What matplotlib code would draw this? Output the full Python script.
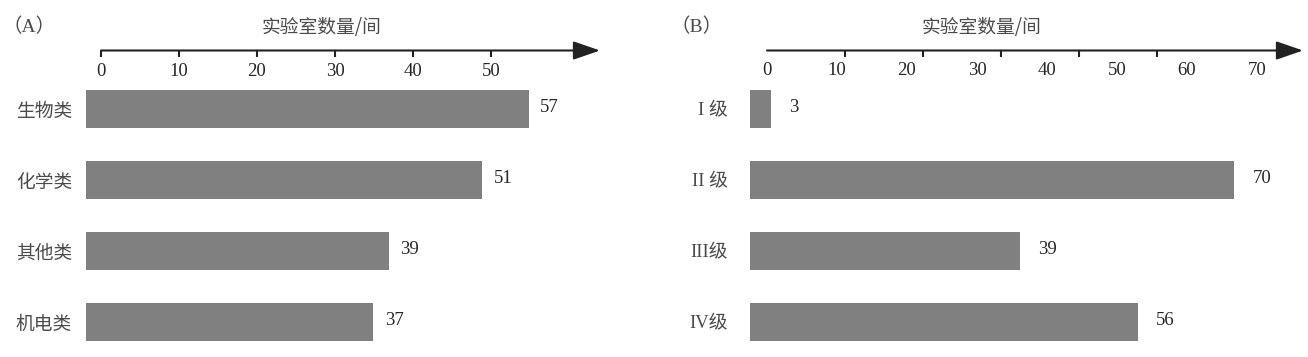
import matplotlib
matplotlib.use("Agg")
import matplotlib.pyplot as plt
from matplotlib.ticker import FixedLocator

# ---------------- data ----------------
cats_a = ["生物类", "化学类", "其他类", "机电类"]
vals_a = [57, 51, 39, 37]
ticks_a = [0, 10, 20, 30, 40, 50]

cats_b = ["I 级", "II 级", "III级", "IV级"]
vals_b = [3, 70, 39, 56]
ticks_b_labels = [0, 10, 20, 30, 40, 50, 60, 70]
n_tick_marks_b = 6

title_txt = "实验室数量/间"
panel_a = "（A）"
panel_b = "（B）"

# ---------------- layout helpers (pixel based) ----------------
W, H = 1308, 357
fig = plt.figure(figsize=(W / 100, H / 100), dpi=100)
fig.patch.set_facecolor("white")

def rect(left, top, right, bottom):
    return [left / W, 1 - bottom / H, (right - left) / W, (bottom - top) / H]

CJK = ["Noto Sans CJK SC", "DejaVu Sans"]
SERIF = ["Liberation Serif", "Noto Sans CJK SC"]
BAR_C = "#808080"
TXT_C = "#4a4a4a"
NUM_C = "#262626"
AX_C = "#222222"
NUM_FS = 13.5

row_px = 71.0
first_center = 109.0

def bar_panel(left_px, right_px, scale, cats, vals, label_pad_pt, lab_family, val_off):
    top_px = first_center - 0.5 * row_px
    bottom_px = first_center + 3.45 * row_px
    ax = fig.add_axes(rect(left_px, top_px, right_px, bottom_px))
    ax.set_xlim(0, (right_px - left_px) / scale)
    ax.set_ylim(3.45, -0.5)
    ypos = list(range(len(cats)))
    ax.barh(ypos, vals, height=0.53, color=BAR_C, edgecolor="none")
    for y, v in zip(ypos, vals):
        ax.annotate(str(v), xy=(v, y), xytext=(val_off, 1), textcoords="offset points",
                    ha="left", va="center", fontsize=NUM_FS, family=["Liberation Serif"],
                    color=NUM_C)
    ax.set_yticks(ypos)
    ax.set_yticklabels(cats)
    for t in ax.get_yticklabels():
        t.set_fontfamily(lab_family)
        t.set_fontsize(13.5)
        t.set_color(TXT_C)
    ax.tick_params(axis="y", length=0, pad=label_pad_pt)
    ax.set_xticks([])
    for s in ax.spines.values():
        s.set_visible(False)
    ax.patch.set_alpha(0)
    return ax

def top_axis(left_px, tip_px, line_y, scale):
    ax = fig.add_axes(rect(left_px, line_y - 12, tip_px, line_y))
    ax.set_xlim(0, (tip_px - left_px) / scale)
    ax.set_ylim(0, 1)
    for s in ax.spines.values():
        s.set_visible(False)
    ax.set_yticks([])
    ax.patch.set_alpha(0)
    ax.annotate("", xy=(1, 0), xytext=(0, 0), xycoords="axes fraction",
                textcoords="axes fraction",
                arrowprops=dict(arrowstyle="-|>,head_length=1.1,head_width=0.38",
                                mutation_scale=15, lw=1.5, color=AX_C,
                                shrinkA=0, shrinkB=0), annotation_clip=False)
    return ax

# ---------------- panel A ----------------
bar_panel(86, 610, 7.77, cats_a, vals_a, 10, CJK, 8)
axta = top_axis(101, 600, 50.5, 7.8)
axta.set_xticks(ticks_a)
axta.set_xticklabels([str(t) for t in ticks_a])
axta.tick_params(axis="x", direction="out", length=4, width=1.5, color=AX_C,
                 pad=5, labelsize=NUM_FS, labelcolor=NUM_C)
for t in axta.get_xticklabels():
    t.set_fontfamily(["Liberation Serif"])

# ---------------- panel B ----------------
bar_panel(750, 1300, 6.92, cats_b, vals_b, 16, SERIF, 13)
lab_scale_b = 7.0   # px per unit for the printed labels
mark_gap_px = 78.0  # px between tick marks
axtb = top_axis(767, 1303, 50.5, lab_scale_b)
axtb.xaxis.set_major_locator(FixedLocator(ticks_b_labels))
axtb.set_xticklabels([str(t) for t in ticks_b_labels])
axtb.xaxis.set_minor_locator(FixedLocator([k * mark_gap_px / lab_scale_b
                                           for k in range(n_tick_marks_b)]))
axtb.tick_params(axis="x", which="major", length=0, pad=8.5, labelsize=NUM_FS,
                 labelcolor=NUM_C)
axtb.tick_params(axis="x", which="minor", direction="out", length=4, width=1.5,
                 color=AX_C)
for t in axtb.get_xticklabels():
    t.set_fontfamily(["Liberation Serif"])

# ---------------- titles & panel letters ----------------
fig.text(322 / W, 1 - 27 / H, title_txt, ha="center", va="center", fontsize=13.5,
         family=CJK, color=TXT_C)
fig.text(982 / W, 1 - 27 / H, title_txt, ha="center", va="center", fontsize=13.5,
         family=CJK, color=TXT_C)
fig.text(2 / W, 1 - 27 / H, panel_a, ha="left", va="center", fontsize=14,
         family=SERIF, color=TXT_C)
fig.text(670 / W, 1 - 27 / H, panel_b, ha="left", va="center", fontsize=14,
         family=SERIF, color=TXT_C)

fig.savefig("out.png", dpi=100, facecolor="white")
